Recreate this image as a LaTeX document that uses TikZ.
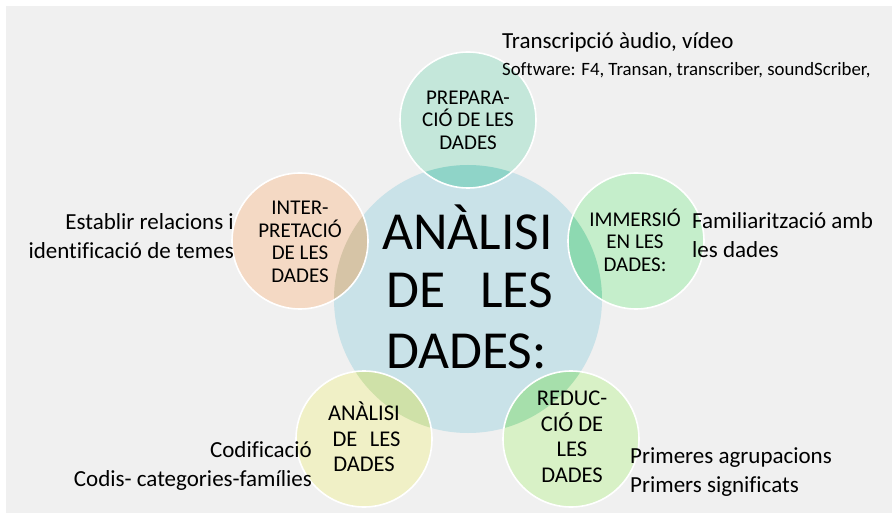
\documentclass[tikz,border=0pt]{standalone}
\usepackage{fontspec}
\setmainfont{Carlito}[Ligatures=NoCommon]
\definecolor{bg}{HTML}{F0F0F0}
\definecolor{centerc}{HTML}{C9E2E8}
\definecolor{prepc}{HTML}{C4E7DA}
\definecolor{prepov}{HTML}{8FD4C8}
\definecolor{interc}{HTML}{F4D9C4}
\definecolor{interov}{HTML}{D6C4A6}
\definecolor{immc}{HTML}{C5EECB}
\definecolor{immov}{HTML}{8DD9B1}
\definecolor{anac}{HTML}{F0F0C6}
\definecolor{anaov}{HTML}{CFE1A8}
\definecolor{redc}{HTML}{D8F1C6}
\definecolor{redov}{HTML}{A6DFAB}
\tikzset{
  satlabel/.style={align=center, inner sep=0pt, font=\fontsize{21}{22.5}\selectfont},
  satlabelb/.style={align=center, inner sep=0pt, font=\fontsize{22.5}{25.5}\selectfont},
  sidetext/.style={inner sep=0pt, font=\fontsize{23}{29}\selectfont},
  titletext/.style={inner sep=0pt, anchor=base west, font=\fontsize{53.5}{59}\selectfont},
  satborder/.style={draw=white, line width=1.6pt}
}
\begin{document}
\begin{tikzpicture}[x=1pt,y=-1pt]
\useasboundingbox (0,0) rectangle (892,513);
\fill[white] (0,0) rectangle (892,513);
\fill[bg] (6,6) rectangle (892,513);
% centres
\coordinate (cc) at (468,299);
\coordinate (cprep) at (468,120);
\coordinate (cint) at (300,241);
\coordinate (cimm) at (636,241);
\coordinate (cana) at (364,439);
\coordinate (cred) at (571,439);
% circles
\fill[centerc] (cc) circle (134);
\fill[prepc] (cprep) circle (68);
\fill[interc] (cint) circle (68);
\fill[immc] (cimm) circle (68);
\fill[anac] (cana) circle (68);
\fill[redc] (cred) circle (68);
\begin{scope}
  \clip (cc) circle (134);
  \fill[prepov] (cprep) circle (68);
  \fill[interov] (cint) circle (68);
  \fill[immov] (cimm) circle (68);
  \fill[anaov] (cana) circle (68);
  \fill[redov] (cred) circle (68);
\end{scope}
\foreach \c in {cprep,cint,cimm,cana,cred} \draw[satborder] (\c) circle (68);
% title
\node[titletext] (t1) at (382,250) {ANÀLISI};
\node[titletext] (t2) at (386,308) {\makebox[167pt]{DE\hfill LES}};
\node[titletext] (t3) at (386,368) {DADES:};
% satellite labels
\node[satlabel] (lprep) at (468,120) {PREPARA-\\CIÓ DE LES\\DADES};
\node[satlabel] (lint) at (300,242) {INTER-\\PRETACIÓ\\DE LES\\DADES};
\node[satlabel] (limm) at (635,240) {IMMERSIÓ\\EN LES\\DADES:};
\node[satlabelb] (lana) at (364,437) {ANÀLISI\\\hspace*{5pt}\makebox[68pt]{DE\hfill LES}\\DADES};
\node[satlabelb] (lred) at (572,437) {REDUC-\\CIÓ DE\\LES\\DADES};
% side texts
\node[sidetext, anchor=west] (trans) at (502,42) {Transcripció àudio, vídeo};
\node[inner sep=0pt, anchor=west, font=\fontsize{18.8}{20}\selectfont] (soft) at (502,70) {Software: F4, Transan, transcriber, soundScriber,};
\node[sidetext, anchor=west, align=left] (fam) at (692,235) {Familiarització amb\\les dades};
\node[sidetext, anchor=east, align=right] (est) at (234,236) {Establir relacions i\\identificació de temes};
\node[sidetext, anchor=east, align=right] (cod) at (312,466) {Codificació\\Codis- categories-famílies};
\node[sidetext, anchor=west, align=left] (prim) at (630,472) {Primeres agrupacions\\Primers significats};
\end{tikzpicture}
\end{document}
